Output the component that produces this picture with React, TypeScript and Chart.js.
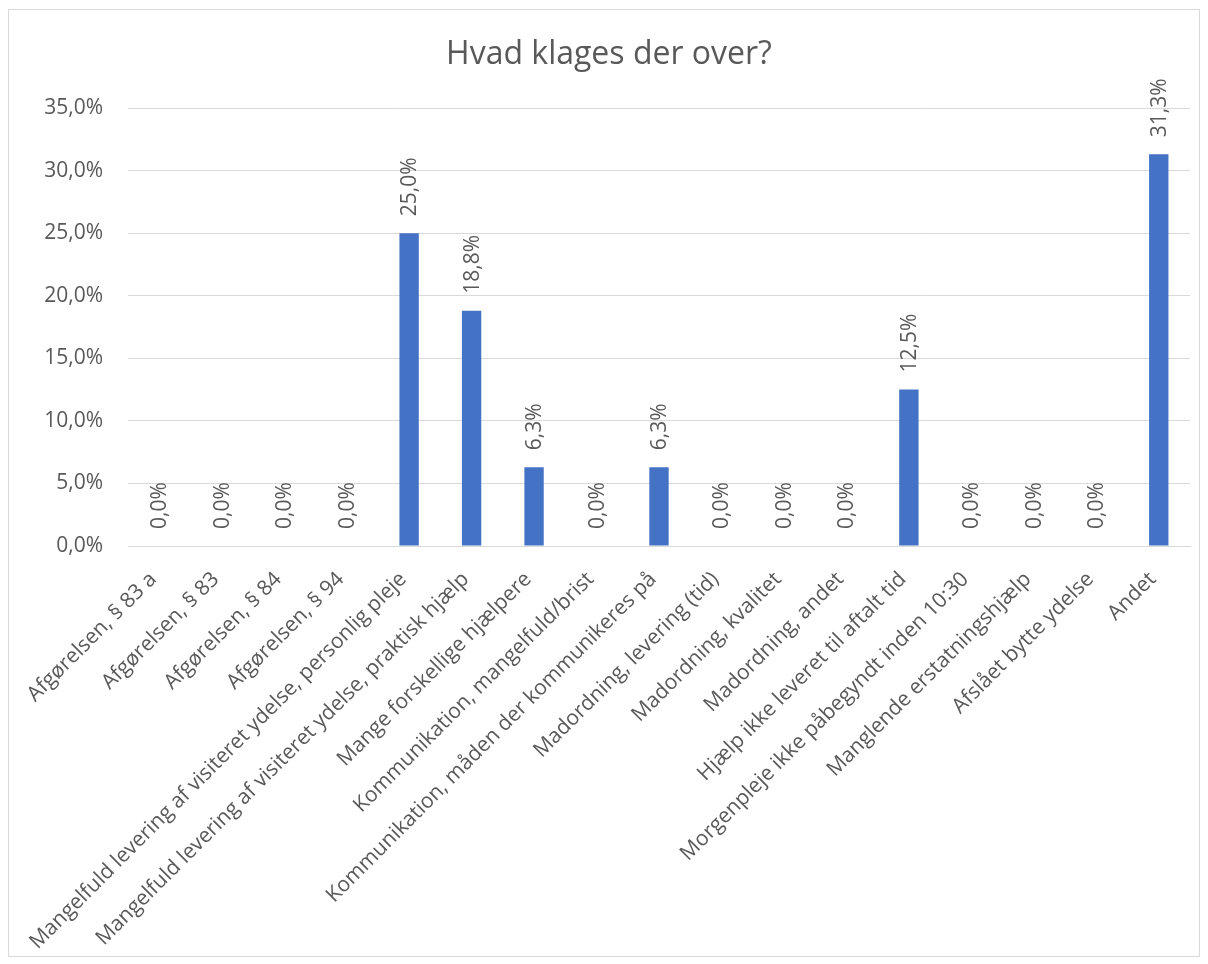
import React, { useEffect, useRef } from "react";
import { Chart, registerables } from "chart.js";

Chart.register(...registerables);

const titleText = "Hvad klages der over?";

const categories = [
  "Afgørelsen, § 83 a",
  "Afgørelsen, § 83",
  "Afgørelsen, § 84",
  "Afgørelsen, § 94",
  "Mangelfuld levering af visiteret ydelse, personlig pleje",
  "Mangelfuld levering af visiteret ydelse, praktisk hjælp",
  "Mange forskellige hjælpere",
  "Kommunikation, mangelfuld/brist",
  "Kommunikation, måden der kommunikeres på",
  "Madordning, levering (tid)",
  "Madordning, kvalitet",
  "Madordning, andet",
  "Hjælp ikke leveret til aftalt tid",
  "Morgenpleje ikke påbegyndt inden 10:30",
  "Manglende erstatningshjælp",
  "Afslået bytte ydelse",
  "Andet",
];

// Share of complaints per category, in percent
const shares = [0, 0, 0, 0, 25.0, 18.8, 6.3, 0, 6.3, 0, 0, 0, 12.5, 0, 0, 0, 31.3];

const yTicks = [0, 5, 10, 15, 20, 25, 30, 35];

const FONT = "'Open Sans', 'Liberation Sans', sans-serif";
const TEXT = "#595959";
const BAR = "#4472C4";
const GRID = "#d9d9d9";

const fmt = (v: number) => v.toFixed(1).replace(".", ",") + "%";

const titlePlugin = {
  id: "chartTitleText",
  afterDraw(chart: any) {
    const ctx = chart.ctx;
    ctx.save();
    ctx.font = `32px ${FONT}`;
    ctx.fillStyle = TEXT;
    ctx.textAlign = "center";
    ctx.textBaseline = "middle";
    ctx.fillText(titleText, chart.width / 2 + 5, 45);
    ctx.restore();
  },
};

const valueLabels = {
  id: "valueLabels",
  afterDatasetsDraw(chart: any) {
    const ctx = chart.ctx;
    const meta = chart.getDatasetMeta(0);
    ctx.save();
    ctx.font = `21px ${FONT}`;
    ctx.fillStyle = TEXT;
    ctx.textAlign = "left";
    ctx.textBaseline = "middle";
    meta.data.forEach((bar: any, i: number) => {
      ctx.save();
      ctx.translate(bar.x + 1, bar.y - 17);
      ctx.rotate(-Math.PI / 2);
      ctx.fillText(fmt(shares[i]), 0, 0);
      ctx.restore();
    });
    ctx.restore();
  },
};

export default function App() {
  const ref = useRef<HTMLCanvasElement>(null);

  useEffect(() => {
    if (!ref.current) return;
    const chart = new Chart(ref.current, {
      type: "bar",
      data: {
        labels: categories,
        datasets: [
          {
            data: shares,
            backgroundColor: BAR,
            borderWidth: 0,
            categoryPercentage: 1,
            barPercentage: 0.31,
          },
        ],
      },
      options: {
        animation: false,
        responsive: false,
        devicePixelRatio: 1,
        layout: { padding: { top: 98, left: 0, right: 9, bottom: 0 } },
        plugins: {
          legend: { display: false },
          title: { display: false },
          tooltip: { enabled: false },
        },
        scales: {
          x: {
            grid: { display: false, drawTicks: false },
            border: { display: true, color: GRID, width: 1 },
            ticks: {
              autoSkip: false,
              maxRotation: 45,
              minRotation: 45,
              padding: 21,
              labelOffset: -6,
              color: TEXT,
              font: { family: FONT, size: 21 },
            },
            afterFit(scale: any) {
              scale.height = 410;
            },
          },
          y: {
            min: 0,
            max: 35,
            afterBuildTicks(scale: any) {
              scale.ticks = yTicks.map((v) => ({ value: v }));
            },
            grid: { color: GRID, lineWidth: 1, drawTicks: false },
            border: { display: false },
            ticks: {
              padding: 25,
              color: TEXT,
              font: { family: FONT, size: 21 },
              callback: (v: any) => fmt(Number(v)),
            },
            afterFit(scale: any) {
              scale.width = 119;
            },
          },
        },
      },
      plugins: [titlePlugin, valueLabels],
    });
    return () => chart.destroy();
  }, []);

  return (
    <div
      style={{
        width: 1190,
        height: 946,
        border: "1px solid #d9d9d9",
        marginTop: 1,
        background: "#fff",
      }}
    >
      <canvas ref={ref} width={1190} height={946} style={{ display: "block" }} />
    </div>
  );
}
